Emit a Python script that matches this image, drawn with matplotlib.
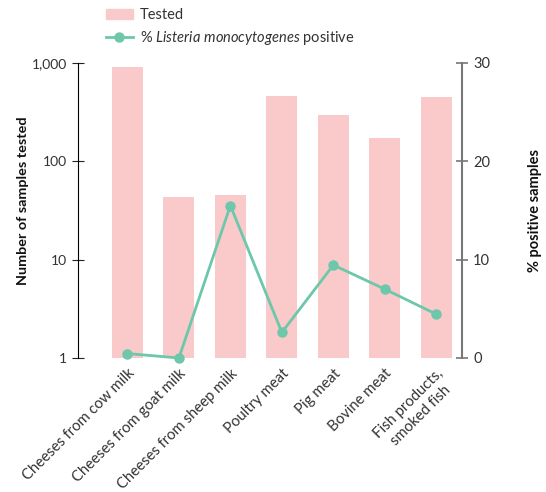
import numpy as np
import matplotlib.pyplot as plt
from matplotlib.lines import Line2D
from matplotlib.patches import Patch

plt.rcParams['font.family'] = ['Lato', 'DejaVu Sans']
plt.rcParams['mathtext.fontset'] = 'custom'
plt.rcParams['mathtext.it'] = 'Lato:italic'
plt.rcParams['mathtext.rm'] = 'Lato'

# Data
categories = ["Cheeses from cow milk", "Cheeses from goat milk", "Cheeses from sheep milk",
              "Poultry meat", "Pig meat", "Bovine meat", "Fish products,\nsmoked fish"]
tested = [920, 43, 45, 463, 297, 173, 452]
pct_positive = [0.45, 0.0, 15.5, 2.6, 9.45, 7.0, 4.45]

left_ticks = [1, 10, 100, 1000]
left_labels = ["1", "10", "100", "1,000"]
right_ticks = [0, 10, 20, 30]

bar_color = "#F9CAC9"
line_color = "#6DC7AA"
text_color = "#333333"

fig = plt.figure(figsize=(5.46, 4.92), dpi=100)
ax = fig.add_axes([0.1429, 0.2724, 0.7033, 0.5996])
x = np.arange(len(categories))

ax.bar(x, tested, width=0.6, color=bar_color)
ax.set_yscale('log')
ax.set_ylim(1, 1000)
ax.set_xlim(-0.96, 6.5)
ax.set_yticks(left_ticks)
ax.set_yticklabels(left_labels)
ax.minorticks_off()
ax.set_xticks(x)
ax.set_xticklabels(categories, rotation=45, ha='right', rotation_mode='anchor',
                   multialignment='center', fontsize=10.7, color=text_color)
ax.tick_params(axis='x', length=0, pad=6)
ax.tick_params(axis='y', direction='inout', length=9, width=0.8, colors='#222222',
               labelsize=10, labelcolor=text_color)
for s in ['top', 'right', 'bottom']:
    ax.spines[s].set_visible(False)
ax.spines['left'].set_linewidth(0.8)
ax.set_ylabel("Number of samples tested", fontsize=10.4, fontweight='bold', color='#111111')
ax.yaxis.set_label_coords(-0.128, 0.532)

ax2 = ax.twinx()
ax2.plot(x, pct_positive, color=line_color, lw=2, marker='o', ms=6.5, clip_on=False)
ax2.set_ylim(0, 30)
ax2.set_yticks(right_ticks)
ax2.tick_params(axis='y', direction='inout', length=9, width=1.2, colors='#777777',
                labelsize=10.5, labelcolor=text_color)
for s in ['top', 'left', 'bottom']:
    ax2.spines[s].set_visible(False)
ax2.spines['right'].set_linewidth(1.5)
ax2.spines['right'].set_color('#777777')
ax2.set_ylabel("% positive samples", fontsize=10.5, fontweight='bold', color='#111111')
ax2.yaxis.set_label_coords(1.172, 0.5)

handles = [Patch(color=bar_color),
           Line2D([], [], color=line_color, lw=2, marker='o', ms=6.5)]
labels = ["Tested", r"% $\it{Listeria\ monocytogenes}$ positive"]
fig.legend(handles, labels, loc='upper left', bbox_to_anchor=(0.170, 1.01), frameon=False,
           fontsize=10.5, handlelength=1.85, labelcolor=text_color, labelspacing=0.45,
           handletextpad=0.5)

fig.savefig("out.png", dpi=100)
